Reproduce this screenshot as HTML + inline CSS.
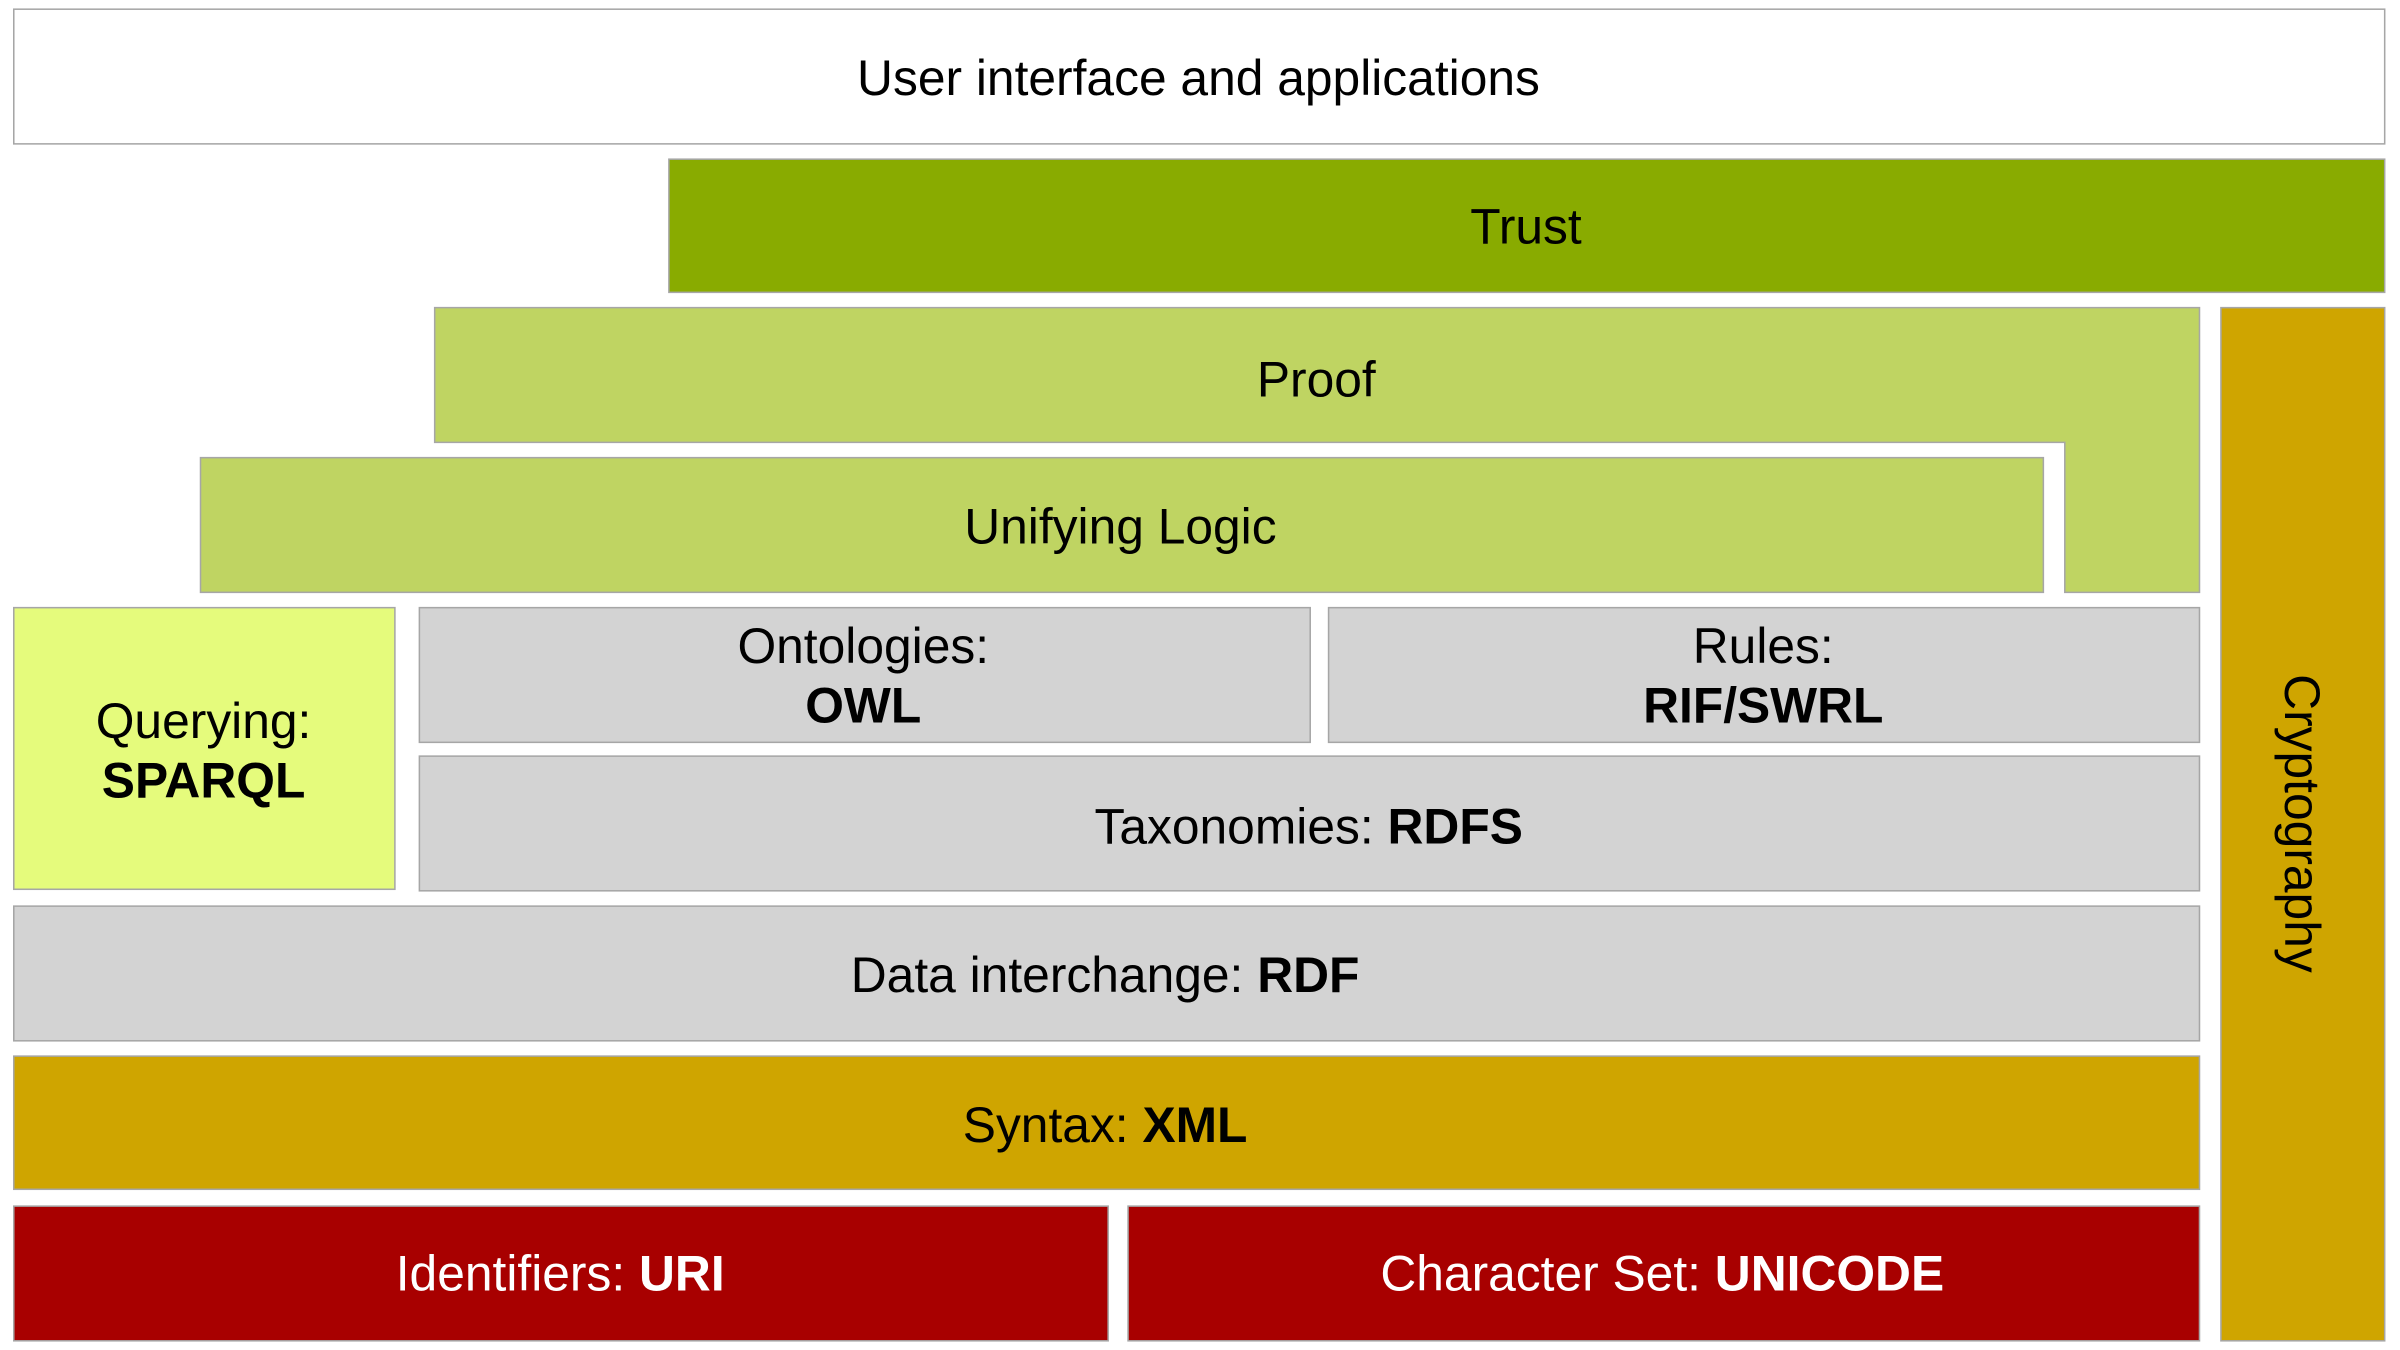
<!DOCTYPE html>
<html><head><meta charset="utf-8"><style>
html,body{margin:0;padding:0;background:#fff;width:2400px;height:1350px;overflow:hidden}
svg{display:block}
text{font-family:"Liberation Sans",Arial,sans-serif;font-size:32.5px;text-anchor:middle;dominant-baseline:central}
.b{font-weight:bold}
</style></head><body>
<svg width="2400" height="1350" viewBox="0 0 1568 882" preserveAspectRatio="none" xmlns="http://www.w3.org/2000/svg">
<g stroke="#a6a6a6" stroke-width="1">
<rect x="9" y="6" width="1549" height="88" fill="#fff"/>
<rect x="437" y="104" width="1121" height="87" fill="#89ab00"/>
<path d="M284 201 H1437 V387 H1349 V289 H284 Z" fill="#bfd462"/>
<rect x="131" y="299" width="1204" height="88" fill="#bfd462"/>
<rect x="1451" y="201" width="107" height="675" fill="#cfa500"/>
<rect x="9" y="397" width="249" height="184" fill="#e5fb7c"/>
<rect x="274" y="397" width="582" height="88" fill="#d3d3d3"/>
<rect x="868" y="397" width="569" height="88" fill="#d3d3d3"/>
<rect x="274" y="494" width="1163" height="88" fill="#d3d3d3"/>
<rect x="9" y="592" width="1428" height="88" fill="#d3d3d3"/>
<rect x="9" y="690" width="1428" height="87" fill="#cfa500"/>
<rect x="9" y="788" width="715" height="88" fill="#a80000"/>
<rect x="737" y="788" width="700" height="88" fill="#a80000"/>
</g>
<text x="783" y="51">User interface and applications</text>
<text x="997" y="148">Trust</text>
<text x="860" y="248">Proof</text>
<text x="732" y="344">Unifying Logic</text>
<text x="133" y="471">Querying:</text>
<text x="133" y="510" class="b">SPARQL</text>
<text x="564" y="422">Ontologies:</text>
<text x="564" y="461" class="b">OWL</text>
<text x="1152" y="422">Rules:</text>
<text x="1152" y="461" class="b">RIF/SWRL</text>
<text x="855" y="540">Taxonomies: <tspan class="b">RDFS</tspan></text>
<text x="722" y="637">Data interchange: <tspan class="b">RDF</tspan></text>
<text x="722" y="735">Syntax: <tspan class="b">XML</tspan></text>
<text x="366" y="832" fill="#fff">Identifiers: <tspan class="b">URI</tspan></text>
<text x="1086" y="832" fill="#fff">Character Set: <tspan class="b">UNICODE</tspan></text>
<text x="1504" y="538" transform="rotate(90 1504 538)">Cryptography</text>
</svg>
</body></html>
